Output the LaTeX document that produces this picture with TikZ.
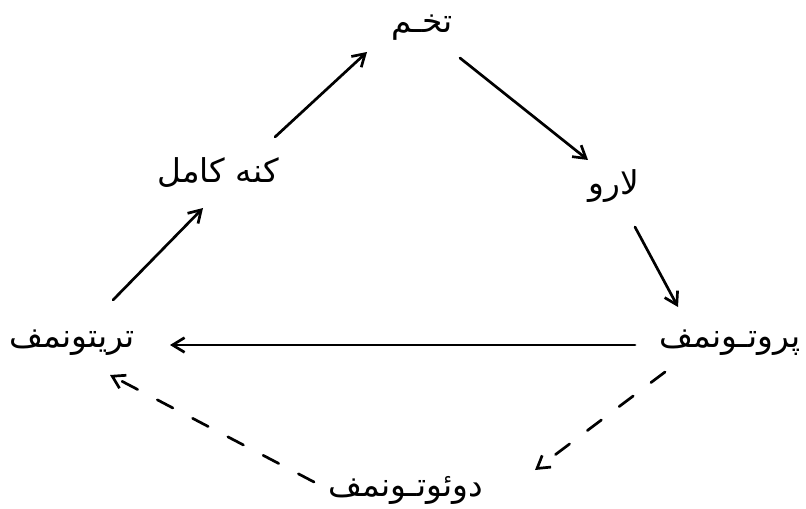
\documentclass[tikz,border=0pt]{standalone}
\usepackage{fontspec}
\newfontfamily\arabicfont[Script=Arabic]{DejaVu Sans}
\TeXXeTstate=1
\usetikzlibrary{arrows.meta}

\begin{document}
\begin{tikzpicture}[x=.03cm,y=-.03cm,
  stage/.style={inner sep=0pt,font=\arabicfont\fontsize{28}{32}\selectfont},
  moult/.style={-{Straight Barb[length=3.6mm,width=4.4mm,line width=2.3pt]},
    line width=2.3pt,line cap=round},
  skipped/.style={moult,dash pattern=on 15pt off 19pt}
]
% Page size of the reference scan.
\useasboundingbox (0,0) rectangle (806,509);

\node[stage] (egg)   at (422,28)  {\beginR تخـم\endR};
\node[stage] (larva) at (614,186) {\beginR لارو\endR};
\node[stage] (proto) at (730,343) {\beginR پروتـونمف\endR};
\node[stage] (deuto) at (406,490) {\beginR دوئوتـونمف\endR};
\node[stage] (trito) at (72,343)  {\beginR تریتونمف\endR};
\node[stage] (adult) at (218,173) {\beginR کنه کامل\endR};

\draw[moult] ([shift={(57,-36)}]adult.center) -- ([shift={(-55,24)}]egg.center);
\draw[moult] ([shift={(38,30)}]egg.center) -- ([shift={(-26,-26)}]larva.center);
\draw[moult] ([shift={(21,41)}]larva.center) -- ([shift={(-52,-36)}]proto.center);
\draw[moult] ([shift={(-95,2)}]proto.center) -- ([shift={(98,2)}]trito.center);
\draw[skipped] ([shift={(-65,29)}]proto.center) -- ([shift={(129,-20)}]deuto.center);
\draw[skipped] ([shift={(-92,-8)}]deuto.center) -- ([shift={(38,32)}]trito.center);
\draw[moult] ([shift={(41,-43)}]trito.center) -- ([shift={(-15,35)}]adult.center);
\end{tikzpicture}
\end{document}
